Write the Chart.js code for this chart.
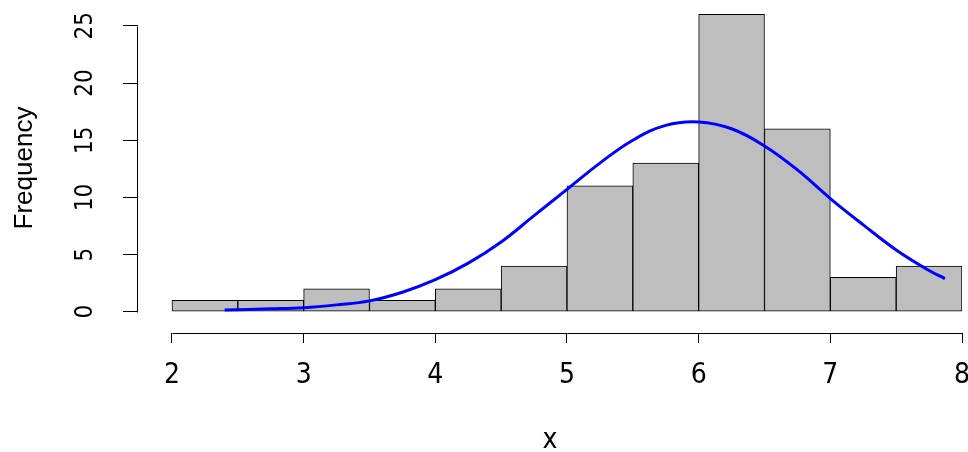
<!DOCTYPE html>
<html>
<head>
<meta charset="utf-8">
<script src="https://cdn.jsdelivr.net/npm/chart.js@4"></script>
<style>
  html, body { margin: 0; padding: 0; background: #fff; }
  #wrap { width: 968px; height: 452px; }
</style>
</head>
<body>
<div id="wrap"><canvas id="histChart"></canvas></div>
<script>
  // histogram bins (midpoints, width 0.5) and counts
  const binMids = [2.25, 2.75, 3.25, 3.75, 4.25, 4.75, 5.25, 5.75, 6.25, 6.75, 7.25, 7.75];
  const counts = [1, 1, 2, 1, 2, 4, 11, 13, 26, 16, 3, 4];

  // normal curve
  const curveX = [2.4, 2.75, 3.0, 3.25, 3.5, 3.75, 4.0, 4.25, 4.5, 4.75, 5.0, 5.25, 5.5, 5.75, 6.0, 6.25, 6.5, 6.75, 7.0, 7.25, 7.5, 7.75, 7.87];
  const curveY = [0.15, 0.25, 0.35, 0.6, 0.95, 1.7, 2.8, 4.25, 6.1, 8.4, 10.7, 13.0, 15.0, 16.3, 16.6, 16.0, 14.5, 12.4, 9.9, 7.6, 5.4, 3.6, 2.9];

  const xTicks = [2, 3, 4, 5, 6, 7, 8];
  const yTicks = [0, 5, 10, 15, 20, 25];

  const narrow = "'Liberation Sans Narrow', 'Arial Narrow', 'DejaVu Sans Condensed', sans-serif";

  // R style axis lines: only from first to last tick
  const rAxes = {
    id: 'rAxes',
    afterDraw(chart) {
      const { ctx, scales: { x, y }, chartArea } = chart;
      ctx.save();
      ctx.strokeStyle = '#000';
      ctx.lineWidth = 1;
      ctx.beginPath();
      const ax = Math.round(chartArea.left) - 0.5;
      ctx.moveTo(ax, Math.round(y.getPixelForValue(yTicks[0])) + 0.5);
      ctx.lineTo(ax, Math.round(y.getPixelForValue(yTicks[yTicks.length - 1])) + 0.5);
      const ay = Math.round(chartArea.bottom) + 0.5;
      ctx.moveTo(Math.round(x.getPixelForValue(xTicks[0])) + 0.5, ay);
      ctx.lineTo(Math.round(x.getPixelForValue(xTicks[xTicks.length - 1])) + 0.5, ay);
      ctx.stroke();
      ctx.restore();
    }
  };

  new Chart(document.getElementById('histChart'), {
    type: 'bar',
    data: {
      datasets: [{
        type: 'line',
        label: 'normal',
        data: curveX.map((v, i) => ({ x: v, y: curveY[i] })),
        borderColor: '#0000FF',
        borderWidth: 3,
        pointRadius: 0,
        fill: false,
        tension: 0.4,
        order: 0
      }, {
        label: 'x',
        data: binMids.map((v, i) => ({ x: v, y: counts[i] })),
        backgroundColor: '#BEBEBE',
        borderColor: '#000',
        borderWidth: 1,
        borderSkipped: false,
        barPercentage: 1,
        categoryPercentage: 1,
        order: 1
      }]
    },
    plugins: [rAxes],
    options: {
      responsive: true,
      maintainAspectRatio: false,
      animation: false,
      layout: { padding: { top: 3, right: 6, left: 0, bottom: 0 } },
      plugins: {
        legend: { display: false },
        tooltip: { enabled: false }
      },
      scales: {
        x: {
          type: 'linear',
          min: 1.742,
          max: 8,
          offset: false,
          afterBuildTicks: s => { s.ticks = xTicks.map(v => ({ value: v })); },
          afterFit: s => { s.height = 119; s.paddingLeft = 0; s.paddingRight = 0; },
          border: { display: false },
          grid: { drawOnChartArea: false, drawTicks: true, tickLength: 10, color: '#000', offset: false },
          ticks: { color: '#000', padding: 16, maxRotation: 0, font: { family: narrow, size: 28 } },
          title: { display: true, text: 'x', color: '#000', padding: 0, font: { family: narrow, size: 28, lineHeight: 0.8 } }
        },
        y: {
          min: -1.86,
          max: 27,
          afterBuildTicks: s => { s.ticks = yTicks.map(v => ({ value: v })); },
          afterFit: s => { s.width = 138; s.paddingTop = 0; s.paddingBottom = 0; },
          border: { display: false },
          grid: { drawOnChartArea: false, drawTicks: true, tickLength: 15, color: '#000' },
          ticks: { color: '#000', padding: 24, minRotation: 90, maxRotation: 90, crossAlign: 'center', font: { family: narrow, size: 24 } },
          title: { display: true, text: 'Frequency', color: '#000', padding: 9, font: { family: "'Liberation Sans', Arial, sans-serif", size: 26 } }
        }
      }
    }
  });
</script>
</body>
</html>
